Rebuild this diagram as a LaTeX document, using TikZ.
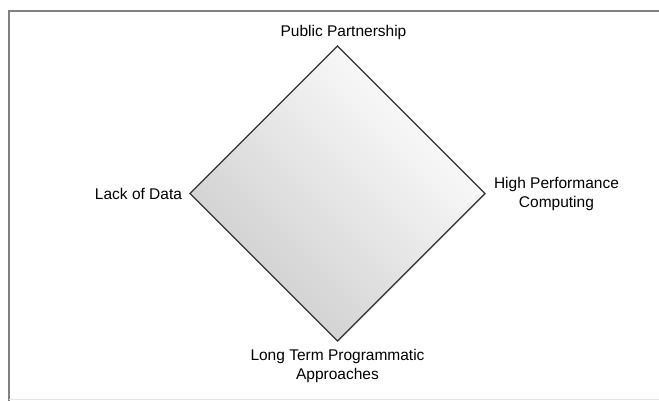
\documentclass[tikz,border=0pt]{standalone}
\usepackage{fontspec}
\setmainfont{Liberation Sans}
\usetikzlibrary{positioning,shapes.geometric,shadows}

\begin{document}
\begin{tikzpicture}[x=1pt, y=1pt,
    corner/.style={diamond, draw=black!80, line width=1.1pt, inner sep=0pt, outer sep=0pt,
      minimum width=295pt, minimum height=295pt, aspect=1,
      left color=black!20, middle color=black!1, right color=white, shading angle=135,
      drop shadow={shadow xshift=1pt, shadow yshift=-1pt, opacity=0.25}},
    lbl/.style={inner sep=0pt, outer sep=0pt, align=center, font=\fontsize{15.5}{19}\selectfont}]
	\useasboundingbox (0,0) rectangle (659,401);
	\fill[white] (0,0) rectangle (659,401);
	% frame
	\draw[black!50, line width=1.5pt] (660,390) -- (9,390) -- (9,0);
	\draw[black!10, line width=1pt] (9,1) -- (660,1);

	\node[corner] (PD) at (337.5,207.5) {};

	\node[lbl] (PP) [above=6.5pt of PD.north, xshift=6pt] {Public Partnership};
	\node[lbl] (LD) [left=8pt of PD.west] {Lack of Data};
	\node[lbl] (HP) [right=9pt of PD.east] {High Performance\\Computing};
	\node[lbl] (LT) [below=8pt of PD.south] {Long Term Programmatic\\Approaches};
\end{tikzpicture}
\end{document}
